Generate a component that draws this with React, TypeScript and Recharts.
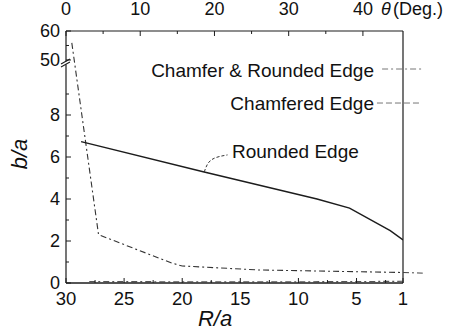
import React from 'react';
import { ComposedChart, Line, XAxis, YAxis, ReferenceLine } from 'recharts';

// ---- data (b/a values in real units; R/a on bottom axis) ----
const roundedR = [28.7, 18.2, 8.4, 5.6, 2.1, 1];
const roundedB = [6.73, 5.3, 4.0, 3.57, 2.49, 2.05];
const chamferedR = [29.5, 27.2, 20.9, 20, 13.4, 1];
const chamferedB = [55.9, 2.3, 0.95, 0.81, 0.62, 0.5];
const chamferRoundR = [28, 20, 10, 1];
const chamferRoundB = [0.07, 0.06, 0.06, 0.08];
const leaderR = [18.1, 17.5, 16.1];
const leaderB = [5.29, 5.86, 6.1];
const rTicks = [30, 25, 20, 15, 10, 5, 1];
const rMinor = [27.5, 22.5, 17.5, 12.5, 7.5, 2.5];
const thetaTicks = [0, 10, 20, 30, 40];
const thetaMinor = [5, 15, 25, 35];
const bTicks = [0, 2, 4, 6, 8, 50, 60];
const bMinor = [1, 3, 5, 7, 9, 55];

// broken y axis: 0..10 linear, 50..60 compressed on top
const disp = (v: number) => (v <= 10 ? v : 12 - (60 - v) * 0.138);

const toData = (rs: number[], bs: number[]) => rs.map((r, i) => ({ r, v: disp(bs[i]) }));
const roundedData = toData(roundedR, roundedB);
const chamferedData = toData(chamferedR, chamferedB);
const chamferRoundData = toData(chamferRoundR, chamferRoundB);
const leaderData = toData(leaderR, leaderB);
// anchors the top (θ) axis; carries no visible values
const thetaAnchor = thetaTicks.map((t) => ({ t, v: null as number | null }));

const INK = '#1c1c1c';
const FONT = '"Liberation Sans", Arial, Helvetica, sans-serif';

const isMajor = (list: number[], v: number, f: (x: number) => number = (x) => x) =>
  list.findIndex((t) => Math.abs(f(t) - v) < 1e-6);

const BottomTick = (props: any) => {
  const { x, y, payload } = props;
  const ay = y - 9;
  const idx = isMajor(rTicks, payload.value);
  const len = idx >= 0 ? 5 : 3;
  return (
    <g>
      <line x1={x} x2={x} y1={ay} y2={ay - len} stroke={INK} strokeWidth={1} />
      {idx >= 0 && (
        <text x={x} y={y} dy="0.71em" textAnchor="middle" fontSize={18.5} fontFamily={FONT} fill="#111">
          {rTicks[idx]}
        </text>
      )}
    </g>
  );
};

const TopTick = (props: any) => {
  const { x, y, payload } = props;
  const ay = y + 16;
  const idx = isMajor(thetaTicks, payload.value);
  const len = idx >= 0 ? 5 : 3;
  return (
    <g>
      <line x1={x} x2={x} y1={ay} y2={ay + len} stroke={INK} strokeWidth={1} />
      {idx >= 0 && (
        <text x={x} y={y} textAnchor="middle" fontSize={18} fontFamily={FONT} fill="#111">
          {thetaTicks[idx]}
        </text>
      )}
    </g>
  );
};

const LeftTick = (props: any) => {
  const { x, y, payload } = props;
  const ax = x + 6;
  const idx = isMajor(bTicks, payload.value, disp);
  const len = idx >= 0 ? 5 : 3;
  return (
    <g>
      <line x1={ax} x2={ax + len} y1={y} y2={y} stroke={INK} strokeWidth={1} />
      {idx >= 0 && (
        <text x={x} y={y} dy="0.36em" textAnchor="end" fontSize={18} fontFamily={FONT} fill="#111">
          {bTicks[idx]}
        </text>
      )}
    </g>
  );
};

const AX = { xAxisId: 'bottom', yAxisId: 'left' } as const;

export default function App() {
  return (
    <div style={{ position: 'absolute', left: 0, top: 0, background: '#fff' }}>
      <ComposedChart width={461} height={333} margin={{ top: 6, right: 58, bottom: 20, left: 0 }}>
        <XAxis
          xAxisId="bottom"
          dataKey="r"
          type="number"
          domain={[1, 30]}
          reversed
          allowDataOverflow
          ticks={[...rTicks, ...rMinor]}
          interval={0}
          tickSize={0}
          tickMargin={9}
          height={30}
          tick={BottomTick}
          axisLine={{ stroke: INK, strokeWidth: 1.3 }}
          tickLine={false}
        />
        <XAxis
          xAxisId="top"
          orientation="top"
          dataKey="t"
          type="number"
          domain={[0, 45.4]}
          allowDataOverflow
          ticks={[...thetaTicks, ...thetaMinor]}
          interval={0}
          tickSize={0}
          tickMargin={16}
          height={25}
          tick={TopTick}
          axisLine={{ stroke: INK, strokeWidth: 1.1 }}
          tickLine={false}
        />
        <YAxis
          yAxisId="left"
          type="number"
          domain={[0, 12]}
          allowDataOverflow
          ticks={[...bTicks, ...bMinor].map(disp)}
          interval={0}
          tickSize={0}
          tickMargin={6}
          width={66}
          tick={LeftTick}
          axisLine={false}
          tickLine={false}
        />

        {/* frame: right edge and broken left axis */}
        <ReferenceLine {...AX} x={1} stroke={INK} strokeWidth={1.2} ifOverflow="visible" />
        <ReferenceLine {...AX} segment={[{ x: 30, y: 0 }, { x: 30, y: 10.4 }]} stroke={INK} strokeWidth={1.2} ifOverflow="visible" />
        <ReferenceLine {...AX} segment={[{ x: 30, y: 10.55 }, { x: 30, y: 12 }]} stroke={INK} strokeWidth={1.2} ifOverflow="visible" />
        <ReferenceLine {...AX} segment={[{ x: 30.43, y: 10.29 }, { x: 29.66, y: 10.52 }]} stroke={INK} strokeWidth={1.1} ifOverflow="visible" />
        <ReferenceLine {...AX} segment={[{ x: 30.43, y: 10.43 }, { x: 29.66, y: 10.67 }]} stroke={INK} strokeWidth={1.1} ifOverflow="visible" />

        {/* legend leader lines */}
        <ReferenceLine {...AX} segment={[{ x: 2.8, y: 10.19 }, { x: -0.72, y: 10.19 }]} stroke="#666" strokeWidth={0.9} strokeDasharray="6 3 2 3" ifOverflow="visible" />
        <ReferenceLine {...AX} segment={[{ x: 3.24, y: 8.57 }, { x: -0.47, y: 8.57 }]} stroke="#666" strokeWidth={0.9} strokeDasharray="6 3" ifOverflow="visible" />
        <ReferenceLine {...AX} segment={[{ x: 1, y: 0.5 }, { x: -0.7, y: 0.47 }]} stroke="#444" strokeWidth={1} strokeDasharray="6 3 2 3" ifOverflow="visible" />

        <Line xAxisId="top" yAxisId="left" data={thetaAnchor} dataKey="v" stroke="none" dot={false} legendType="none" isAnimationActive={false} />
        <Line {...AX} data={chamferRoundData} dataKey="v" type="linear" stroke="#555" strokeWidth={1.1} strokeDasharray="6 3 2 3" dot={false} isAnimationActive={false} />
        <Line {...AX} data={chamferedData} dataKey="v" type="linear" stroke="#333" strokeWidth={1.1} strokeDasharray="6 3 2 3" dot={false} isAnimationActive={false} />
        <Line {...AX} data={roundedData} dataKey="v" type="linear" stroke={INK} strokeWidth={1.4} dot={false} isAnimationActive={false} />
        <Line {...AX} data={leaderData} dataKey="v" type="natural" stroke="#333" strokeWidth={1} strokeDasharray="3 2" dot={false} isAnimationActive={false} />

        {/* annotations & titles */}
        <text x={374} y={77} textAnchor="end" fontSize={19} fontFamily={FONT} fill="#111">Chamfer &amp; Rounded Edge</text>
        <text x={374} y={110} textAnchor="end" fontSize={19} fontFamily={FONT} fill="#111">Chamfered Edge</text>
        <text x={232} y={158} fontSize={19} fontFamily={FONT} fill="#111">Rounded Edge</text>
        <text x={381} y={15} fontSize={18} fontFamily={FONT} fill="#111">
          <tspan fontStyle="italic">θ</tspan>
          <tspan x={393}>(Deg.)</tspan>
        </text>
        <text x={215} y={326} textAnchor="middle" fontSize={22} fontStyle="italic" fontFamily={FONT} fill="#111">R/a</text>
        <text x={27} y={154} textAnchor="middle" fontSize={22} fontStyle="italic" fontFamily={FONT} fill="#111" transform="rotate(-90, 27, 154)">b/a</text>
      </ComposedChart>
    </div>
  );
}
